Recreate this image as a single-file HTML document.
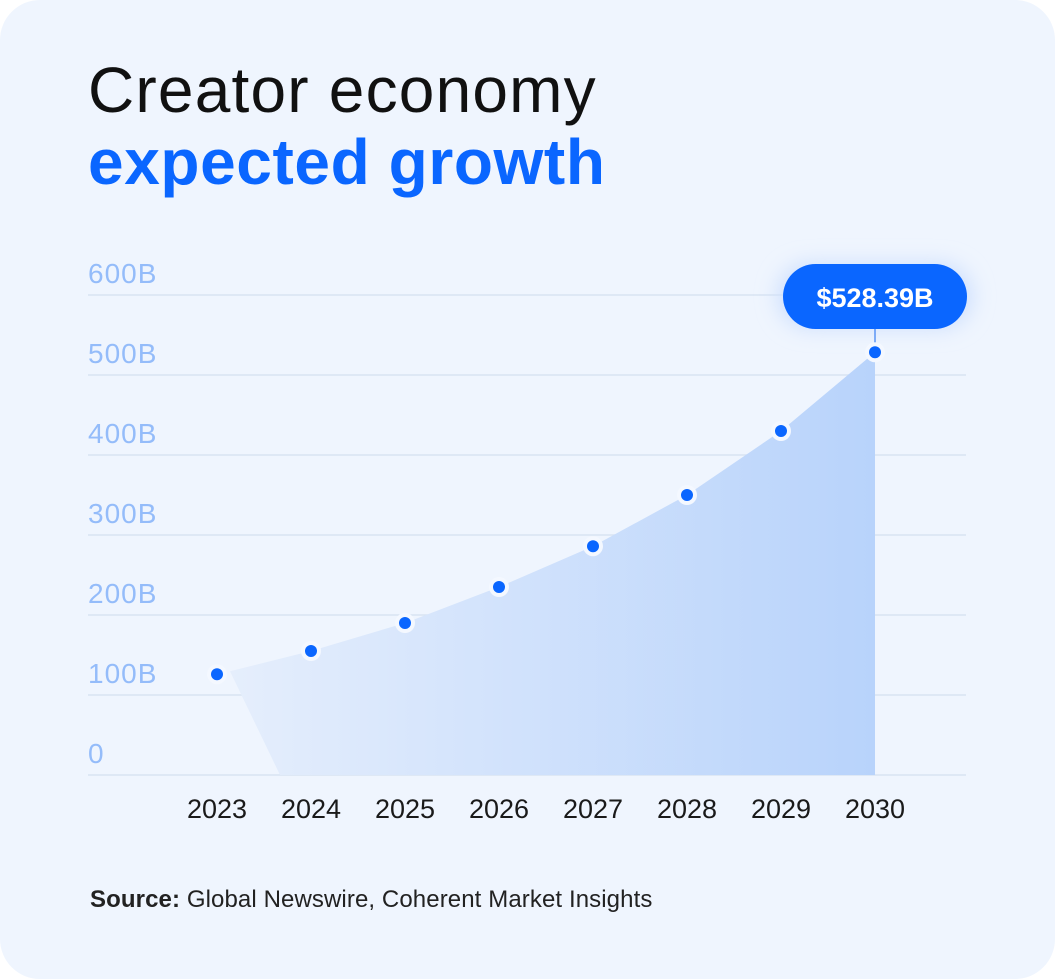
<!DOCTYPE html>
<html><head><meta charset="utf-8"><style>
html,body{margin:0;padding:0;background:#fff;width:1055px;height:979px;overflow:hidden}
.card{position:absolute;left:0;top:0;width:1055px;height:979px;background:#EFF5FE;border-radius:40px}
.t{position:absolute;left:88px;font-family:"Liberation Sans",sans-serif;font-size:64px;line-height:1}
svg{position:absolute;left:0;top:0}
</style></head><body>
<div class="card"></div>
<div class="t" style="top:58px;color:#111;letter-spacing:1.2px">Creator economy</div>
<div class="t" style="top:130px;color:#0A66FF;font-weight:bold;letter-spacing:0.6px">expected growth</div>
<svg id="c" width="1055" height="979">
<defs>
<linearGradient id="g" x1="0" y1="0" x2="1" y2="0">
<stop offset="0" stop-color="#E5EEFC"/><stop offset="1" stop-color="#B8D3FB"/>
</linearGradient>
<filter id="glow" x="-30%" y="-60%" width="160%" height="220%"><feGaussianBlur stdDeviation="10"/></filter>
</defs>
</svg>
<div style="position:absolute;left:90px;top:886px;font-family:'Liberation Sans',sans-serif;font-size:24px;color:#222;letter-spacing:0.1px"><b>Source:</b> Global Newswire, Coherent Market Insights</div>
<script>
const years=["2023","2024","2025","2026","2027","2028","2029","2030"];
const values=[126,155,190,235,286,350,430,528.39];
const yTicks=[0,100,200,300,400,500,600];
const yTickLabels=["0","100B","200B","300B","400B","500B","600B"];
const calloutLabel="$528.39B";
const NS="http://www.w3.org/2000/svg";
const svg=document.getElementById('c');
const x0=217,dx=94,yBase=775,pxPer=0.8;
const X=i=>x0+i*dx, Y=v=>yBase-v*pxPer;
function mk(t,a){const e=document.createElementNS(NS,t);for(const k in a)e.setAttribute(k,a[k]);svg.appendChild(e);return e;}
yTicks.forEach((v,i)=>{
 const l=mk('line',{x1:88,x2:966,y1:Y(v),y2:Y(v),stroke:'#D8E3F2','stroke-width':1.5});
 
 
 const t=mk('text',{x:88,y:Y(v)-12,fill:'#94BCFA','font-size':28,'letter-spacing':1,'font-family':'Liberation Sans, sans-serif'});
 t.textContent=yTickLabels[i];
 
 
});
let pts=values.map((v,i)=>[X(i)+(i==0?13:0),Y(v)+(i==0?-3:0)]);
const n=values.length-1;
let d='M'+pts.map(p=>p.join(',')).join(' L')+' L'+X(n)+','+yBase+' L'+(X(0)+63)+','+yBase+' Z';
const area=mk('path',{d:d,fill:'url(#g)'});


years.forEach((y,i)=>{
 const t=mk('text',{x:X(i),y:818,fill:'#1a1a1a','font-size':27,'text-anchor':'middle','font-family':'Liberation Sans, sans-serif'});
 t.textContent=y;
 
 
});
const cx=X(n), cy=Y(values[n]);
const glow=mk('rect',{x:cx-98,y:263,width:196,height:66,rx:33,fill:'#CFE0FD',filter:'url(#glow)'});


const st=mk('line',{x1:cx,x2:cx,y1:328,y2:cy,stroke:'#5B95F5','stroke-width':1.5});


const pill=mk('rect',{x:cx-92,y:264,width:184,height:65,rx:32.5,fill:'#0A66FF'});


const ct=mk('text',{x:cx,y:307,fill:'#fff','font-size':27,'font-weight':'bold','text-anchor':'middle','font-family':'Liberation Sans, sans-serif'});
ct.textContent=calloutLabel;


values.forEach((v,i)=>{
 const h=mk('circle',{cx:X(i),cy:Y(v),r:10,fill:'#F4F8FF'});
 
 
 const c=mk('circle',{cx:X(i),cy:Y(v),r:6,fill:'#0A66FF'});
 
 
});
</script>
</body></html>
